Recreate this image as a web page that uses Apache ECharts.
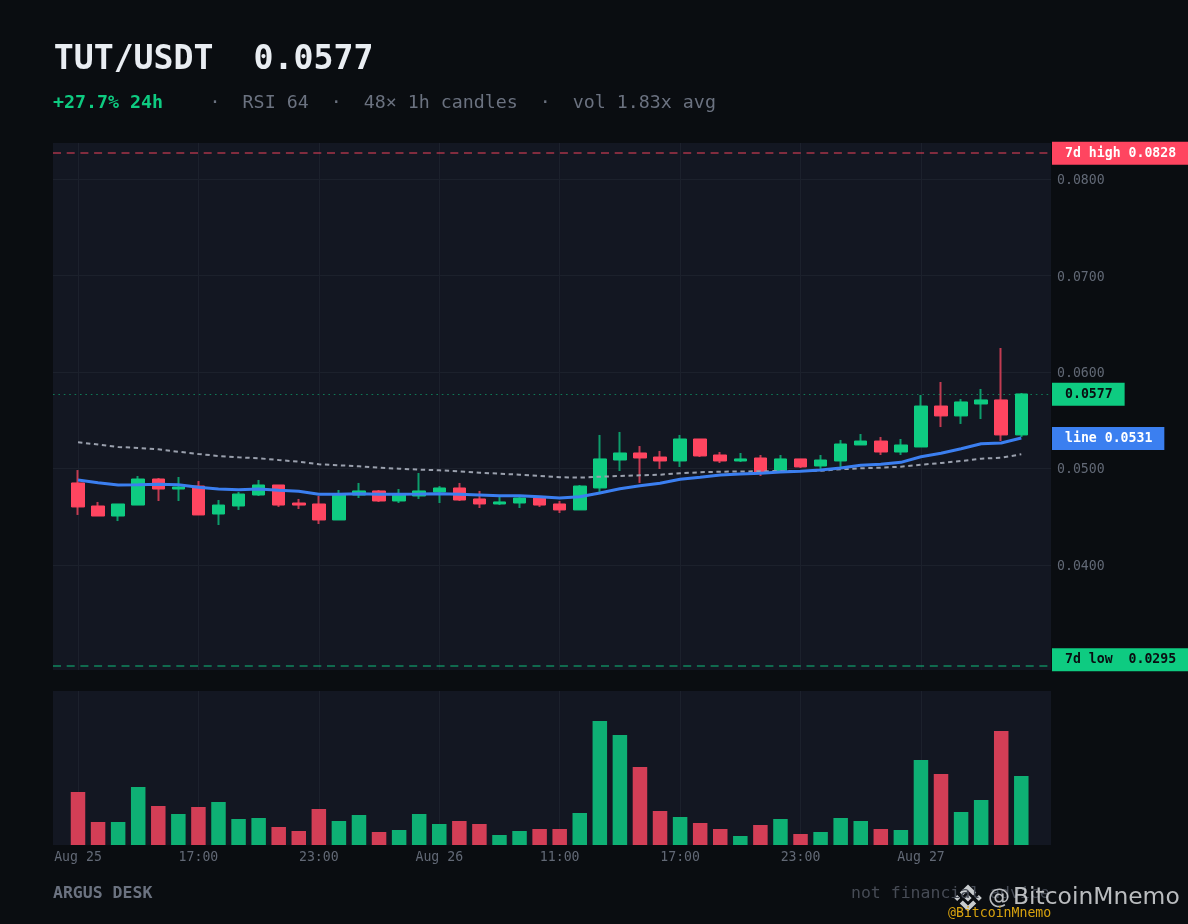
<!DOCTYPE html>
<html><head><meta charset="utf-8">
<style>html,body{margin:0;padding:0;background:#0a0d11}#c{width:1188px;height:924px}</style>
<script src="https://cdn.jsdelivr.net/npm/echarts@6/dist/echarts.min.js"></script>
</head><body><div id="c"></div>
<script>
const opens=[.04850,.04611,.04507,.04621,.04891,.04787,.04818,.04528,.04611,.04725,.04829,.04642,.04632,.04466,.04725,.04767,.04663,.04715,.04756,.04798,.04684,.04632,.04642,.04694,.04632,.04570,.04798,.05088,.05161,.05119,.05078,.05306,.05140,.05078,.05109,.04964,.05099,.05026,.05078,.05244,.05285,.05171,.05223,.05648,.05545,.05669,.05711,.05348];
const closes=[.04601,.04507,.04632,.04891,.04787,.04808,.04518,.04621,.04735,.04829,.04621,.04621,.04466,.04725,.04767,.04663,.04725,.04767,.04798,.04673,.04632,.04653,.04694,.04621,.04570,.04818,.05099,.05161,.05109,.05078,.05306,.05130,.05078,.05099,.04964,.05099,.05016,.05088,.05254,.05285,.05171,.05244,.05648,.05545,.05690,.05711,.05348,.05773];
const lows=[.04518,.04507,.04455,.04621,.04663,.04663,.04518,.04414,.04570,.04715,.04601,.04580,.04424,.04466,.04694,.04653,.04642,.04684,.04642,.04663,.04590,.04621,.04590,.04601,.04538,.04570,.04756,.04974,.04850,.04995,.05016,.05119,.05057,.05067,.04922,.04953,.05005,.04984,.05005,.05244,.05140,.05140,.05223,.05430,.05462,.05513,.05285,.05327];
const highs=[.04984,.04653,.04632,.04922,.04901,.04912,.04870,.04673,.04756,.04881,.04829,.04684,.04715,.04777,.04850,.04777,.04787,.04953,.04818,.04850,.04767,.04704,.04704,.04715,.04663,.04829,.05348,.05379,.05233,.05182,.05348,.05306,.05171,.05161,.05140,.05140,.05099,.05140,.05296,.05358,.05327,.05306,.05762,.05897,.05721,.05825,.06250,.05783];
const lineValues=[.04881,.04853,.04829,.04832,.04836,.04832,.04805,.04787,.04780,.04787,.04774,.04763,.04732,.04732,.04739,.04732,.04732,.04735,.04739,.04732,.04725,.04718,.04718,.04707,.04694,.04707,.04746,.04790,.04822,.04846,.04888,.04909,.04933,.04943,.04950,.04964,.04971,.04984,.05005,.05033,.05044,.05064,.05122,.05158,.05205,.05257,.05265,.05316];
const slowValues=[.05272,.05249,.05223,.05213,.05199,.05174,.05150,.05130,.05116,.05106,.05088,.05071,.05044,.05033,.05023,.05008,.04998,.04988,.04981,.04971,.04956,.04946,.04936,.04922,.04909,.04905,.04915,.04922,.04929,.04936,.04950,.04961,.04967,.04969,.04971,.04974,.04974,.04977,.04992,.05002,.05008,.05019,.05039,.05057,.05078,.05102,.05112,.05147];
const volumes=[53,23,23,58,39,31,38,43,26,27,18,14,36,24,30,13,15,31,21,24,21,10,14,16,16,32,124,110,78,34,28,22,16,9,20,26,11,13,27,24,16,15,85,71,33,45,114,69];
const timeTicks=[0,6,12,18,24,30,36,42];
const timeLabels=['Aug 25','17:00','23:00','Aug 26','11:00','17:00','23:00','Aug 27'];
const priceTicks=[.04,.05,.06,.07,.08];
const high7d=.0828, low7d=.0295, lastPrice=.0577, lineLast=.0531;

const MONO='"DejaVu Sans Mono"';
const UP='#0ecb81',DOWN='#ff4560',BLUE='#3b7ff0',GRID='#1c212c',DIM='#626976',SUB='#6b7280';
const idx=opens.map((_,i)=>i);
const wick=idx.map(i=>[i,opens[i],closes[i],lows[i],highs[i]]);
const body=idx.map(i=>[i,opens[i],closes[i],Math.min(opens[i],closes[i]),Math.max(opens[i],closes[i])]);
const xBase={type:'value',min:-1.2456,max:48.48,axisLine:{show:false},
  axisTick:{show:false,customValues:timeTicks},
  splitLine:{show:true,lineStyle:{color:GRID,width:1.1}}};
function tag(text,color,bg,offset){
  return {show:true,position:'end',distance:1,formatter:text,color:color,backgroundColor:bg,
    fontFamily:MONO,fontWeight:'bold',fontSize:13.2,lineHeight:15,padding:[4,12,4,13],offset:offset||[0,0]};
}
function text(t,left,top,size,color,weight,extra){
  return Object.assign({text:t,left:left,top:top,padding:0,textStyle:{fontFamily:MONO,fontSize:size,color:color,fontWeight:weight||'normal',lineHeight:size*1.2}},extra||{});
}
const logoFill='rgba(217,220,222,.92)';
const chart=echarts.init(document.getElementById('c'),null,{renderer:'canvas'});
chart.setOption({
  animation:false,backgroundColor:'#0a0d11',
  title:[
    text('TUT/USDT  0.0577',53.7,40,33.2,'#e9edf2','bold'),
    text('+27.7% 24h',53,92,18.3,UP,'bold'),
    text('·  RSI 64  ·  48× 1h candles  ·  vol 1.83x avg',209.6,92,18.3,SUB),
    text('ARGUS DESK',53,884,16.5,SUB,'bold'),
    text('not financial advice',851,884,16.5,'#464b55')
  ],
  grid:[
    {left:53,top:143,width:998,height:527,show:true,backgroundColor:'#131722',borderWidth:0},
    {left:53,top:691,width:998,height:154,show:true,backgroundColor:'#131722',borderWidth:0}
  ],
  xAxis:[
    Object.assign({gridIndex:0,axisLabel:{show:false,customValues:timeTicks}},xBase),
    Object.assign({gridIndex:1,axisLabel:{show:true,customValues:timeTicks,margin:6,hideOverlap:false,
      fontFamily:MONO,fontSize:13.2,color:DIM,formatter:v=>timeLabels[timeTicks.indexOf(v)]||''}},xBase)
  ],
  yAxis:[
    {gridIndex:0,type:'value',position:'right',min:.0291,max:.08376,axisLine:{show:false},
     axisTick:{show:false,customValues:priceTicks},
     splitLine:{show:true,lineStyle:{color:GRID,width:1.1}},
     axisLabel:{customValues:priceTicks,margin:6,fontFamily:MONO,fontSize:13.2,color:DIM,
       formatter:v=>'{p|'+v.toFixed(4)+'}',
       rich:{p:{padding:[3,0,0,0],fontFamily:MONO,fontSize:13.2,color:DIM}}}},
    {gridIndex:1,type:'value',min:0,max:154,axisLine:{show:false},axisTick:{show:false},axisLabel:{show:false},splitLine:{show:false}}
  ],
  series:[
    {type:'candlestick',name:'wick',xAxisIndex:0,yAxisIndex:0,barWidth:1,data:wick,encode:{x:0,y:[1,2,3,4]},z:2,
     itemStyle:{color:'#0d9c6b',color0:'#c23b51',borderColor:'#0d9c6b',borderColor0:'#c23b51',borderWidth:2}},
    {type:'candlestick',name:'candle',xAxisIndex:0,yAxisIndex:0,barWidth:13,data:body,encode:{x:0,y:[1,2,3,4]},z:3,
     itemStyle:{color:UP,color0:DOWN,borderColor:UP,borderColor0:DOWN,borderWidth:1},
     markLine:{silent:true,symbol:'none',precision:5,z:4,data:[
       {yAxis:high7d,lineStyle:{color:'rgba(255,69,96,.62)',width:1.65,type:[8,5.7]},label:tag('7d high '+high7d.toFixed(4),'#fff',DOWN,[0,1])},
       {yAxis:low7d,lineStyle:{color:'rgba(14,203,129,.62)',width:1.65,type:[8,5.7]},label:tag('7d low  '+low7d.toFixed(4),'#0a0d11',UP,[0,-6.5])},
       {yAxis:lastPrice,lineStyle:{color:'rgba(14,203,129,.55)',width:1.1,type:[1.6,3.8]},label:tag(lastPrice.toFixed(4),'#0a0d11',UP)}
     ]}},
    {type:'line',name:'slow',xAxisIndex:0,yAxisIndex:0,data:idx.map(i=>[i,slowValues[i]]),showSymbol:false,z:5,
     lineStyle:{color:'#9aa0ad',width:2,type:[4.4,3.6]}},
    {type:'line',name:'line',xAxisIndex:0,yAxisIndex:0,data:idx.map(i=>[i,lineValues[i]]),showSymbol:false,z:6,
     lineStyle:{color:BLUE,width:3},
     markLine:{silent:true,symbol:'none',precision:5,data:[{yAxis:lineLast,lineStyle:{color:'rgba(0,0,0,0)',width:0},label:tag('line '+lineLast.toFixed(4),'#fff',BLUE)}]}},
    {type:'bar',name:'volume',xAxisIndex:1,yAxisIndex:1,barWidth:14.5,
     data:idx.map(i=>({value:[i,volumes[i]],itemStyle:{color:closes[i]>=opens[i]?'#0eb074':'#d33e56'}}))}
  ],
  graphic:[
    {type:'group',x:968,y:898,z:100,children:[
      {type:'polygon',shape:{points:[[0,-3.6],[3.6,0],[0,3.6],[-3.6,0]]},style:{fill:logoFill}},
      {type:'polygon',shape:{points:[[0,-13.6],[8.2,-5.4],[5.2,-2.4],[0,-7.6],[-5.2,-2.4],[-8.2,-5.4]]},style:{fill:logoFill}},
      {type:'polygon',shape:{points:[[0,13.6],[8.2,5.4],[5.2,2.4],[0,7.6],[-5.2,2.4],[-8.2,5.4]]},style:{fill:logoFill}},
      {type:'polygon',shape:{points:[[-13.8,0],[-10.8,-3],[-7.8,0],[-10.8,3]]},style:{fill:logoFill}},
      {type:'polygon',shape:{points:[[13.8,0],[10.8,-3],[7.8,0],[10.8,3]]},style:{fill:logoFill}}
    ]},
    {type:'text',z:100,x:988,y:898,style:{text:'@',fill:'rgba(217,220,222,.85)',font:'22px "DejaVu Sans"',verticalAlign:'middle'}},
    {type:'text',z:100,x:1013,y:898,style:{text:'BitcoinMnemo',fill:'rgba(217,220,222,.85)',font:'23.4px "DejaVu Sans"',verticalAlign:'middle'}},
    {type:'text',z:100,x:948,y:914,style:{text:'@BitcoinMnemo',fill:'#d7a20f',font:'13.2px "DejaVu Sans Mono"',verticalAlign:'middle'}}
  ]
});
</script></body></html>
